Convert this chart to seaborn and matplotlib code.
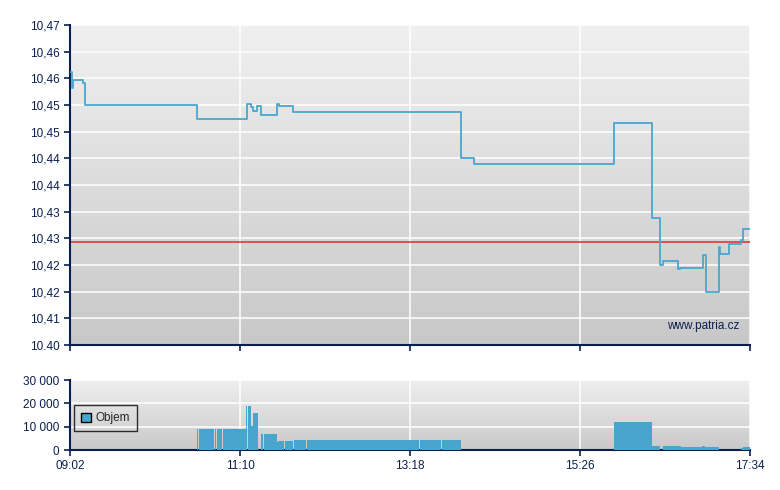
import numpy as np
import seaborn as sns
import matplotlib.pyplot as plt
from matplotlib.patches import Patch

# price trades: minutes after 09:02 and price
price_min = [0, 1.4, 1.9, 10.0, 11.3, 95.4, 132.9, 136.1, 137.6, 141.0, 143.6,
             155.6, 157.1, 168.1, 294.2, 304.4, 409.6, 438.0, 444.2, 446.7,
             458.0, 459.3, 476.4, 478.9, 488.7, 489.4, 496.4, 505.0, 507.0, 512]
price = [10.4561, 10.4532, 10.4547, 10.4541, 10.4500, 10.4474, 10.4502, 10.4497,
         10.4489, 10.4499, 10.4481, 10.4502, 10.4499, 10.4486, 10.4400, 10.4389,
         10.4466, 10.4288, 10.4200, 10.4208, 10.4192, 10.4195, 10.4218, 10.4149,
         10.4233, 10.4220, 10.4239, 10.4247, 10.4267, 10.4267]
prev_close = 10.4243

# volume bars: start / end minute, volume
vol_start = [95.6, 97.1, 109.2, 110.7, 115.0, 132.5, 133.8, 136.1, 137.8, 143.8,
             145.8, 155.9, 156.6, 161.7, 168.4, 176.2, 178.1, 179.9, 237.2, 263.5,
             279.9, 409.8, 438.0, 446.7, 459.8, 475.6, 478.1, 505.2, 507.0]
vol_end = [96.4, 108.6, 110.2, 114.4, 132.5, 133.3, 136.1, 137.8, 141.6, 145.1,
           155.9, 156.6, 161.3, 167.9, 175.9, 177.7, 179.6, 236.8, 263.1, 279.4,
           294.2, 438.0, 444.2, 459.8, 475.6, 478.1, 488.9, 507.0, 512.0]
volume = [9000, 9000, 9000, 9000, 9000, 19000, 19000, 10300, 16000, 6900,
          6900, 3300, 3900, 3900, 4300, 4300, 4300, 4300, 4300, 4300,
          4300, 11800, 1700, 1700, 1300, 1800, 1200, 700, 1300]

x_ticks = [0, 128, 256, 384, 512]
x_labels = ["09:02", "11:10", "13:18", "15:26", "17:34"]
y_ticks = [10.405 + 0.005 * i for i in range(13)]
y_labels = ["10.40", "10,41", "10,42", "10,42", "10,43", "10,43", "10,44",
            "10,44", "10,45", "10,45", "10,46", "10,46", "10,47"]
v_ticks = [0, 10000, 20000, 30000]
v_labels = ["0", "10 000", "20 000", "30 000"]

navy = "#0b1f4f"
blue = "#48a6ce"

sns.set_style("white")
plt.rcParams["font.family"] = ["Liberation Sans", "DejaVu Sans"]
plt.rcParams["font.size"] = 8.5

fig = plt.figure(figsize=(7.8, 4.9), dpi=100)
ax = fig.add_axes([70 / 780, 1 - 345 / 490, 680 / 780, 320 / 490])
axv = fig.add_axes([70 / 780, 1 - 450 / 490, 680 / 780, 70 / 490])


def style_axes(a, top_c, bot_c):
    grad = np.linspace(0, 1, 256).reshape(-1, 1)
    cmap = sns.blend_palette([top_c, bot_c], as_cmap=True)
    a.imshow(grad, extent=[0, 1, 0, 1], transform=a.transAxes, aspect="auto",
             cmap=cmap, zorder=0, origin="upper")
    a.grid(True, color="white", lw=1.1, zorder=1)
    a.set_axisbelow(True)
    for s in ["top", "right"]:
        a.spines[s].set_visible(False)
    for s in ["left", "bottom"]:
        a.spines[s].set_color(navy)
        a.spines[s].set_linewidth(1.5)
    a.tick_params(colors=navy, length=4, width=1.2, direction="out",
                  left=True, bottom=True, labelcolor=navy, labelsize=8.5)


style_axes(ax, "#f0f0f0", "#c8c8c8")
style_axes(axv, "#efefef", "#c9c9c9")

sns.lineplot(x=price_min, y=price, ax=ax, color=blue, lw=1.3,
             drawstyle="steps-post", estimator=None, sort=False, zorder=3)
ax.axhline(prev_close, color="#e8282c", lw=1.1, zorder=2)
ax.set_xlim(0, 512)
ax.set_ylim(10.405, 10.465)
ax.set_yticks(y_ticks)
ax.set_yticklabels(y_labels)
ax.set_xticks(x_ticks)
ax.set_xticklabels([])
ax.text(0.985, 0.06, "www.patria.cz", transform=ax.transAxes, ha="right",
        va="center", color=navy, fontsize=8.5, zorder=4)

widths = [e - s for s, e in zip(vol_start, vol_end)]
axv.bar(vol_start, volume, width=widths, align="edge", color=blue, lw=0, zorder=3)
axv.set_xlim(0, 512)
axv.set_ylim(0, 30000)
axv.set_yticks(v_ticks)
axv.set_yticklabels(v_labels)
axv.set_xticks(x_ticks)
axv.set_xticklabels(x_labels)
leg = axv.legend(handles=[Patch(facecolor=blue, edgecolor="black", label="Objem")],
                 loc="upper left", bbox_to_anchor=(0.006, 0.64), frameon=True,
                 fancybox=False, edgecolor="black", facecolor="none",
                 framealpha=None, fontsize=8.5, handlelength=0.8,
                 handleheight=0.8, borderpad=0.6, handletextpad=0.4,
                 borderaxespad=0)
leg.get_frame().set_linewidth(1.0)

fig.savefig("out.png", dpi=100)
